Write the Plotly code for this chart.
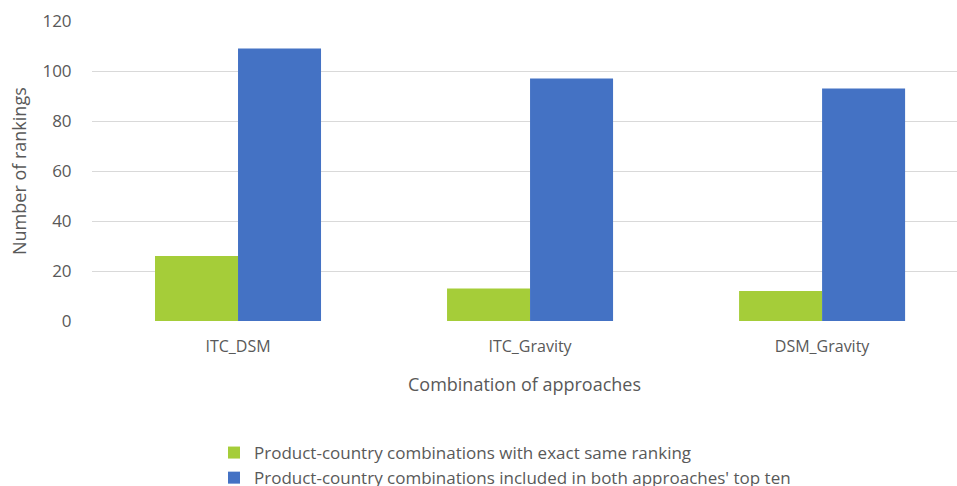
import plotly.graph_objects as go

categories = ["ITC_DSM", "ITC_Gravity", "DSM_Gravity"]
exact_same = [26, 13, 12]
both_top_ten = [109, 97, 93]
series_names = [
    "Product-country combinations with exact same ranking",
    "Product-country combinations included in both approaches' top ten",
]
y_ticks = [0, 20, 40, 60, 80, 100, 120]

FONT = "Open Sans"
GREY = "#595959"

fig = go.Figure()
fig.add_trace(go.Bar(x=categories, y=exact_same, name=series_names[0],
                     marker=dict(color="#A5CD39", line=dict(width=0))))
fig.add_trace(go.Bar(x=categories, y=both_top_ten, name=series_names[1],
                     marker=dict(color="#4472C4", line=dict(width=0))))

fig.update_layout(
    width=957, height=486,
    margin=dict(l=92, r=0, t=21, b=165, autoexpand=False),
    paper_bgcolor="white", plot_bgcolor="white",
    barmode="group", bargap=0.4315, bargroupgap=0,
    font=dict(family=FONT, color=GREY, size=17),
    showlegend=True,
    legend=dict(
        orientation="v", xref="container", yref="container",
        x=214 / 957, y=1 - 435 / 486, xanchor="left", yanchor="top",
        font=dict(size=17, color=GREY, family=FONT),
        traceorder="normal", itemclick=False, tracegroupgap=0,
        bgcolor="rgba(0,0,0,0)",
    ),
    xaxis=dict(
        range=[-0.5, 2.462], showgrid=False, showline=False, zeroline=False,
        ticks="outside", ticklen=11, tickcolor="rgba(0,0,0,0)",
        tickfont=dict(size=16, color=GREY, family=FONT),
        automargin=False,
        title=dict(text="Combination of approaches", standoff=22,
                   font=dict(size=18, color=GREY, family=FONT)),
    ),
    yaxis=dict(
        range=[0, 120], tickvals=y_ticks, showgrid=True, gridcolor="#D9D9D9",
        gridwidth=1, zeroline=False, showline=False,
        ticks="outside", ticklen=16, tickcolor="rgba(0,0,0,0)",
        tickfont=dict(size=17, color=GREY, family=FONT),
        automargin=False,
    ),
    annotations=[dict(
        text="Number of rankings", textangle=-90, showarrow=False,
        xref="paper", yref="paper", x=(19 - 92) / 865, y=0.5,
        xanchor="center", yanchor="middle",
        font=dict(size=18, color=GREY, family=FONT),
    )],
)

fig.write_html("out.html")
